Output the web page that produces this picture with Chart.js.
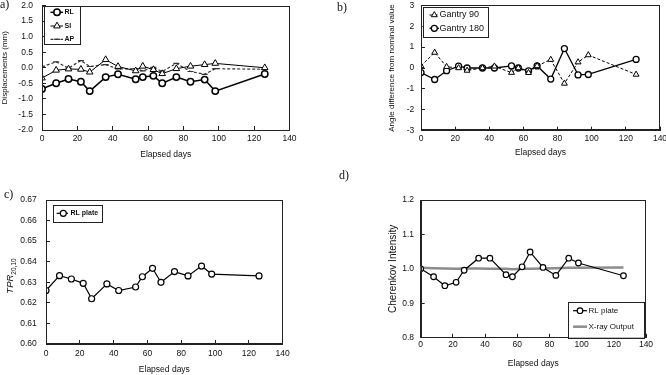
<!DOCTYPE html>
<html lang="en">
<head>
<meta charset="UTF-8">
<title>QA trends over elapsed days</title>
<script src="https://cdn.jsdelivr.net/npm/chart.js"></script>
<style>
  body { margin: 0; background: #fff; }
  #wrap { position: relative; width: 666px; height: 375px; overflow: hidden; font-family: 'Liberation Sans', Arial, sans-serif; }
  canvas { position: absolute; }
  .tag { position: absolute; font-family: 'Liberation Serif', 'Times New Roman', serif; font-size: 12px; color: #111; }
  .ytitle { position: absolute; width: 60px; height: 12px; line-height: 12px; text-align: center; font-size: 9.5px; color: #111; transform: rotate(-90deg); white-space: nowrap; }
  .ytitle sub { font-size: 6.5px; }
</style>
</head>
<body>
<div id="wrap">
  <canvas id="chartA" width="300" height="165" style="left:0;top:0"></canvas>
  <canvas id="chartB" width="333" height="165" style="left:333px;top:0"></canvas>
  <canvas id="chartC" width="300" height="195" style="left:0;top:180px"></canvas>
  <canvas id="chartD" width="333" height="195" style="left:333px;top:180px"></canvas>
  <div class="tag" style="left:0;top:-3px">a)</div>
  <div class="tag" style="left:337px;top:0">b)</div>
  <div class="tag" style="left:4px;top:187px">c)</div>
  <div class="tag" style="left:339px;top:168px">d)</div>
  <div class="ytitle" style="left:-20px;top:270px"><i>TPR</i><sub>20,10</sub></div>
</div>

<script>
// elapsed days (shared by all panels)
var days = [0, 8, 15, 22, 27, 36, 43, 53, 57, 63, 68, 76, 84, 92, 98, 126];

// a) displacements (mm)
var dispRL = [-0.68, -0.50, -0.36, -0.45, -0.75, -0.30, -0.21, -0.37, -0.30, -0.26, -0.50, -0.30, -0.45, -0.38, -0.75, -0.20];
var dispSI = [-0.33, -0.08, -0.04, -0.05, -0.14, 0.26, 0.04, -0.10, 0.05, -0.06, -0.19, -0.03, 0.05, 0.10, 0.14, 0.00];
var dispAP = [0.03, 0.19, -0.01, 0.23, 0.04, 0.10, -0.04, -0.03, -0.10, 0.01, -0.12, 0.14, -0.12, -0.21, -0.03, -0.05];

// b) angle difference from nominal value
var gantry90 = [0.10, 0.74, 0.06, 0.00, -0.12, 0.00, 0.08, -0.22, 0.00, -0.23, 0.10, 0.40, -0.74, 0.28, 0.62, -0.31];
var gantry180 = [-0.22, -0.55, -0.13, 0.09, 0.00, 0.00, 0.00, 0.10, 0.00, -0.14, 0.10, -0.53, 0.93, -0.33, -0.31, 0.41];

// c) TPR20,10
var tprRL = [0.6260, 0.6332, 0.6316, 0.6295, 0.6220, 0.6292, 0.6260, 0.6277, 0.6327, 0.6368, 0.6300, 0.6352, 0.6331, 0.6379, 0.6340, 0.6331];

// d) Cherenkov intensity
var cherRL = [1.000, 0.977, 0.951, 0.961, 0.996, 1.031, 1.031, 0.983, 0.977, 1.006, 1.049, 1.004, 0.981, 1.031, 1.017, 0.980];
var xrayOut = [1.003, 1.002, 1.001, 1.000, 1.001, 1.001, 1.000, 1.000, 0.999, 1.000, 1.000, 1.001, 1.002, 1.003, 1.003, 1.004];

// axis ranges [min, max, step]
var dayRange = [0, 140, 20];
var dispRange = [-2, 2, 0.5];
var angleRange = [-3, 3, 1];
var tprRange = [0.60, 0.67, 0.01];
var cherRange = [0.8, 1.2, 0.1];

var FONT = "'Liberation Sans', Arial, sans-serif";
var INK = '#111';

function pts(ys) {
    return days.map(function (d, i) { return { x: d, y: ys[i] }; });
}

// box round the plot area
var framePlugin = {
    id: 'frame',
    afterDraw: function (chart) {
        var a = chart.chartArea, ctx = chart.ctx;
        ctx.save();
        ctx.strokeStyle = '#222';
        ctx.lineWidth = 1;
        ctx.strokeRect(Math.round(a.left) + 0.5, Math.round(a.top) + 0.5,
            Math.round(a.right - a.left) - 1, Math.round(a.bottom - a.top) - 1);
        ctx.restore();
    }
};

// legend inside a bordered box, drawn with each dataset's own line and marker
var boxLegend = {
    id: 'boxLegend',
    afterDraw: function (chart, args, o) {
        if (!o.rows) return;
        var ctx = chart.ctx;
        ctx.save();
        ctx.fillStyle = '#fff';
        ctx.fillRect(o.x, o.y, o.w, o.h);
        ctx.strokeStyle = '#222';
        ctx.lineWidth = 1;
        ctx.strokeRect(Math.round(o.x) + 0.5, Math.round(o.y) + 0.5, Math.round(o.w), Math.round(o.h));
        chart.data.datasets.forEach(function (ds, i) {
            var y = o.rows[i];
            ctx.strokeStyle = ds.borderColor;
            ctx.lineWidth = ds.borderWidth;
            ctx.setLineDash(ds.borderDash || []);
            ctx.beginPath();
            ctx.moveTo(o.from, y);
            ctx.lineTo(o.to, y);
            ctx.stroke();
            ctx.setLineDash([]);
            if (ds.pointRadius > 0) {
                ctx.fillStyle = ds.pointBackgroundColor;
                ctx.strokeStyle = ds.pointBorderColor;
                ctx.lineWidth = ds.pointBorderWidth;
                Chart.helpers.drawPoint(ctx, { pointStyle: ds.pointStyle, radius: ds.pointRadius, borderWidth: ds.pointBorderWidth, rotation: 0 }, o.mark, y);
            }
            ctx.fillStyle = INK;
            ctx.font = o.font;
            ctx.textBaseline = 'middle';
            ctx.textAlign = 'left';
            ctx.fillText(ds.label, o.text, y);
        });
        ctx.restore();
    }
};

function series(label, ys, style, radius, width, dash, color) {
    return {
        label: label,
        data: pts(ys),
        borderColor: color || '#000',
        borderWidth: width,
        borderDash: dash || [],
        pointStyle: style,
        pointRadius: radius,
        pointBackgroundColor: '#fff',
        pointBorderColor: color || '#000',
        pointBorderWidth: width,
        tension: 0
    };
}

function makeChart(id, datasets, cfg) {
    return new Chart(document.getElementById(id), {
        type: 'line',
        data: { datasets: datasets },
        plugins: [framePlugin, boxLegend],
        options: {
            responsive: false,
            animation: false,
            events: [],
            layout: { padding: cfg.pad },
            plugins: {
                legend: { display: false },
                tooltip: { enabled: false },
                boxLegend: cfg.legend
            },
            scales: {
                x: {
                    type: 'linear',
                    min: dayRange[0], max: dayRange[1],
                    afterFit: function (s) { s.height = cfg.xh; s.paddingLeft = 0; s.paddingRight = 0; },
                    border: { color: '#222' },
                    grid: { drawOnChartArea: false, tickLength: -4, color: '#222' },
                    ticks: { stepSize: dayRange[2], padding: cfg.xtp, maxRotation: 0, color: INK, font: { family: FONT, size: 8.5 } },
                    title: { display: true, text: 'Elapsed days', color: INK, padding: { top: 0, bottom: cfg.xtb }, font: { family: FONT, size: 8.5 } }
                },
                y: {
                    min: cfg.range[0], max: cfg.range[1],
                    afterFit: function (s) { s.width = cfg.yw; s.paddingTop = 0; s.paddingBottom = 0; },
                    border: { color: '#222' },
                    grid: { drawOnChartArea: false, tickLength: -4, color: '#222' },
                    ticks: {
                        stepSize: cfg.range[2], padding: cfg.ytp, color: INK, font: { family: FONT, size: 8.5 },
                        callback: function (v) { return v.toFixed(cfg.dec); }
                    },
                    title: { display: !!cfg.ytitle, text: cfg.ytitle, color: INK, padding: { top: cfg.ytt, bottom: 0 }, font: { family: FONT, size: cfg.ysize || 8 } }
                }
            }
        }
    });
}

makeChart('chartA', [
    series('RL', dispRL, 'circle', 3.2, 1.5),
    series('SI', dispSI, 'triangle', 3.8, 1),
    series('AP', dispAP, 'line', 3, 1.2, [3, 2], '#333')
], {
    pad: { left: 0, top: 3, right: 10.5, bottom: 0 },
    xh: 35, yw: 42, xtp: 7.6, xtb: 5.6, ytp: 13, ytt: 0,
    range: dispRange, dec: 1, ytitle: 'Displacements (mm)',
    legend: { x: 44, y: 6, w: 36, h: 38, rows: [12.3, 26, 39.3], from: 50.5, to: 63, mark: 57, text: 64.5, font: 'bold 7px ' + FONT }
});

makeChart('chartB', [
    series('Gantry 90', gantry90, 'triangle', 3.4, 1, [3, 2]),
    series('Gantry 180', gantry180, 'circle', 3, 1.3)
], {
    pad: { left: 0, top: 3, right: 6, bottom: 0 },
    xh: 34.3, yw: 88, xtp: 6.5, xtb: 7.6, ytp: 10.7, ytt: 53.5,
    range: angleRange, dec: 0, ytitle: 'Angle difference from nominal value',
    legend: { x: 89.7, y: 6.7, w: 64.6, h: 30, rows: [15, 28.3], from: 96.5, to: 106, mark: 101.3, text: 106.5, font: '9px ' + FONT }
});

makeChart('chartC', [
    series('RL plate', tprRL, 'circle', 3, 1.2)
], {
    pad: { left: 0, top: 20, right: 17.3, bottom: 0 },
    xh: 31, yw: 46, xtp: 8.9, xtb: 0, ytp: 13.3, ytt: 0,
    range: tprRange, dec: 2, ytitle: '',
    legend: { x: 52.7, y: 25, w: 49, h: 17.3, rows: [33.3], from: 56.7, to: 68, mark: 63.3, text: 70.5, font: 'bold 7px ' + FONT }
});

makeChart('chartD', [
    series('RL plate', cherRL, 'circle', 2.8, 1.2),
    series('X-ray Output', xrayOut, 'circle', 0, 2.5, [], '#8c8c8c')
], {
    pad: { left: 0, top: 20, right: 20, bottom: 0 },
    xh: 37.3, yw: 87.7, xtp: 6.2, xtb: 6.6, ytp: 10.7, ytt: 54,
    range: cherRange, dec: 1, ytitle: 'Cherenkov Intensity', ysize: 10,
    legend: { x: 235, y: 122, w: 76, h: 35.7, rows: [130.7, 146.7], from: 240, to: 254, mark: 247, text: 255.5, font: '8px ' + FONT }
});
</script>
</body>
</html>
